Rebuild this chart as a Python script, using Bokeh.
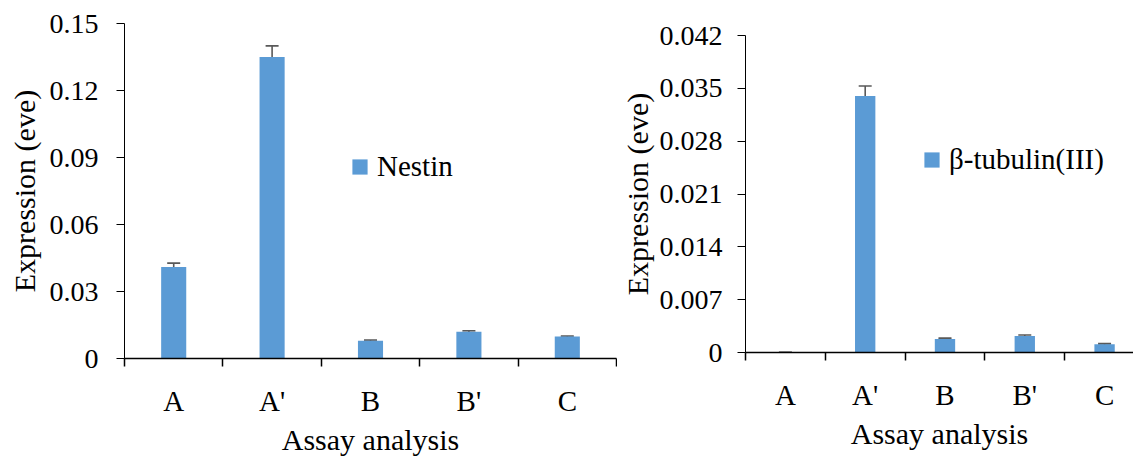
from bokeh.plotting import figure
from bokeh.models import (Range1d, FixedTicker, Whisker, TeeHead, ColumnDataSource,
                          Legend, LegendItem)
from bokeh.layouts import row, column
from bokeh.embed import file_html
from bokeh.resources import INLINE

categories = ["A", "A'", "B", "B'", "C"]

nestin_values = [0.041, 0.135, 0.008, 0.012, 0.0098]
nestin_errors = [0.0017, 0.005, 0.0003, 0.0004, 0.0003]
nestin_yticks = [0, 0.03, 0.06, 0.09, 0.12, 0.15]
nestin_ylabels = ["0", "0.03", "0.06", "0.09", "0.12", "0.15"]

tubulin_values = [0.0, 0.034, 0.0018, 0.0022, 0.0011]
tubulin_errors = [0.00002, 0.0013, 0.0001, 0.00012, 0.0001]
tubulin_yticks = [0, 0.007, 0.014, 0.021, 0.028, 0.035, 0.042]
tubulin_ylabels = ["0", "0.007", "0.014", "0.021", "0.028", "0.035", "0.042"]

FONT = "Liberation Serif"
BAR = "#5B9BD5"
ERR = "#595959"


def make_chart(values, errors, yticks, ylabels, legend_label, width, height,
               x_end, borders, legend_loc, label_standoff, title_standoff):
    n = len(categories)
    centers = [i + 0.5 for i in range(n)]
    bounds = list(range(n + 1))
    src = ColumnDataSource(dict(
        x=centers, top=values,
        upper=[v + e for v, e in zip(values, errors)],
        lower=[v - e for v, e in zip(values, errors)],
    ))
    p = figure(width=width, height=height, output_backend="svg", toolbar_location=None,
               x_range=Range1d(0, x_end), y_range=Range1d(0, yticks[-1]),
               min_border_left=borders[0], min_border_right=borders[1],
               min_border_top=borders[2], min_border_bottom=borders[3])
    p.outline_line_color = None
    p.xgrid.visible = False
    p.ygrid.visible = False
    p.background_fill_color = "white"
    p.border_fill_color = "white"

    bars = p.vbar(x="x", top="top", width=0.255, source=src, fill_color=BAR,
                  line_color=None)
    wh = Whisker(source=src, base="x", upper="upper", lower="lower",
                 line_color=ERR, line_width=1.6,
                 upper_head=TeeHead(size=13, line_color=ERR, line_width=1.6),
                 lower_head=TeeHead(size=13, line_color=ERR, line_width=1.6))
    p.add_layout(wh)

    xa = p.xaxis[0]
    xa.ticker = FixedTicker(ticks=centers, minor_ticks=bounds)
    xa.major_label_overrides = {c: lab for c, lab in zip(centers, categories)}
    xa.major_tick_line_color = None
    xa.major_tick_out = 8
    xa.major_tick_in = 0
    xa.minor_tick_out = 8
    xa.minor_tick_in = 0
    xa.minor_tick_line_color = "black"
    xa.minor_tick_line_width = 1.5
    xa.axis_line_color = "black"
    xa.axis_line_width = 1.5
    xa.major_label_text_font = FONT
    xa.major_label_text_font_size = "29px"
    xa.major_label_text_color = "black"
    xa.major_label_standoff = 18
    xa.axis_label = "Assay analysis"
    xa.axis_label_text_font = FONT
    xa.axis_label_text_font_size = "30px"
    xa.axis_label_text_font_style = "normal"
    xa.axis_label_text_color = "black"
    xa.axis_label_standoff = 3

    ya = p.yaxis[0]
    ya.ticker = FixedTicker(ticks=yticks, minor_ticks=[])
    ya.major_label_overrides = {t: lab for t, lab in zip(yticks, ylabels)}
    ya.major_tick_out = 8
    ya.major_tick_in = 0
    ya.major_tick_line_color = "black"
    ya.axis_line_color = "black"
    ya.axis_line_width = 1
    ya.major_label_text_font = FONT
    ya.major_label_text_font_size = "28px"
    ya.major_label_text_color = "black"
    ya.major_label_standoff = label_standoff
    ya.axis_label = "Expression (eve)"
    ya.axis_label_text_font = FONT
    ya.axis_label_text_font_size = "30px"
    ya.axis_label_text_font_style = "normal"
    ya.axis_label_text_color = "black"
    ya.axis_label_standoff = title_standoff

    legend = Legend(items=[LegendItem(label=legend_label, renderers=[bars])],
                    location=legend_loc, border_line_color=None,
                    background_fill_alpha=0, padding=0, margin=0, spacing=0,
                    glyph_width=19, glyph_height=19, label_standoff=8,
                    label_text_font=FONT, label_text_font_size="29px",
                    label_text_color="black")
    p.add_layout(legend)
    return p


left = make_chart(nestin_values, nestin_errors, nestin_yticks, nestin_ylabels, "Nestin",
                  617, 458, 5, (124, 1, 23, 96), (226, 175), 18, 6)
right = make_chart(tubulin_values, tubulin_errors, tubulin_yticks, tubulin_ylabels,
                   "β-tubulin(III)", 516, 458, 389 / 80, (127, 0, 35, 106), (177, 176), 15, 3)

layout = row(column(left), column(right))
open("out.html", "w").write(file_html(layout, INLINE))
